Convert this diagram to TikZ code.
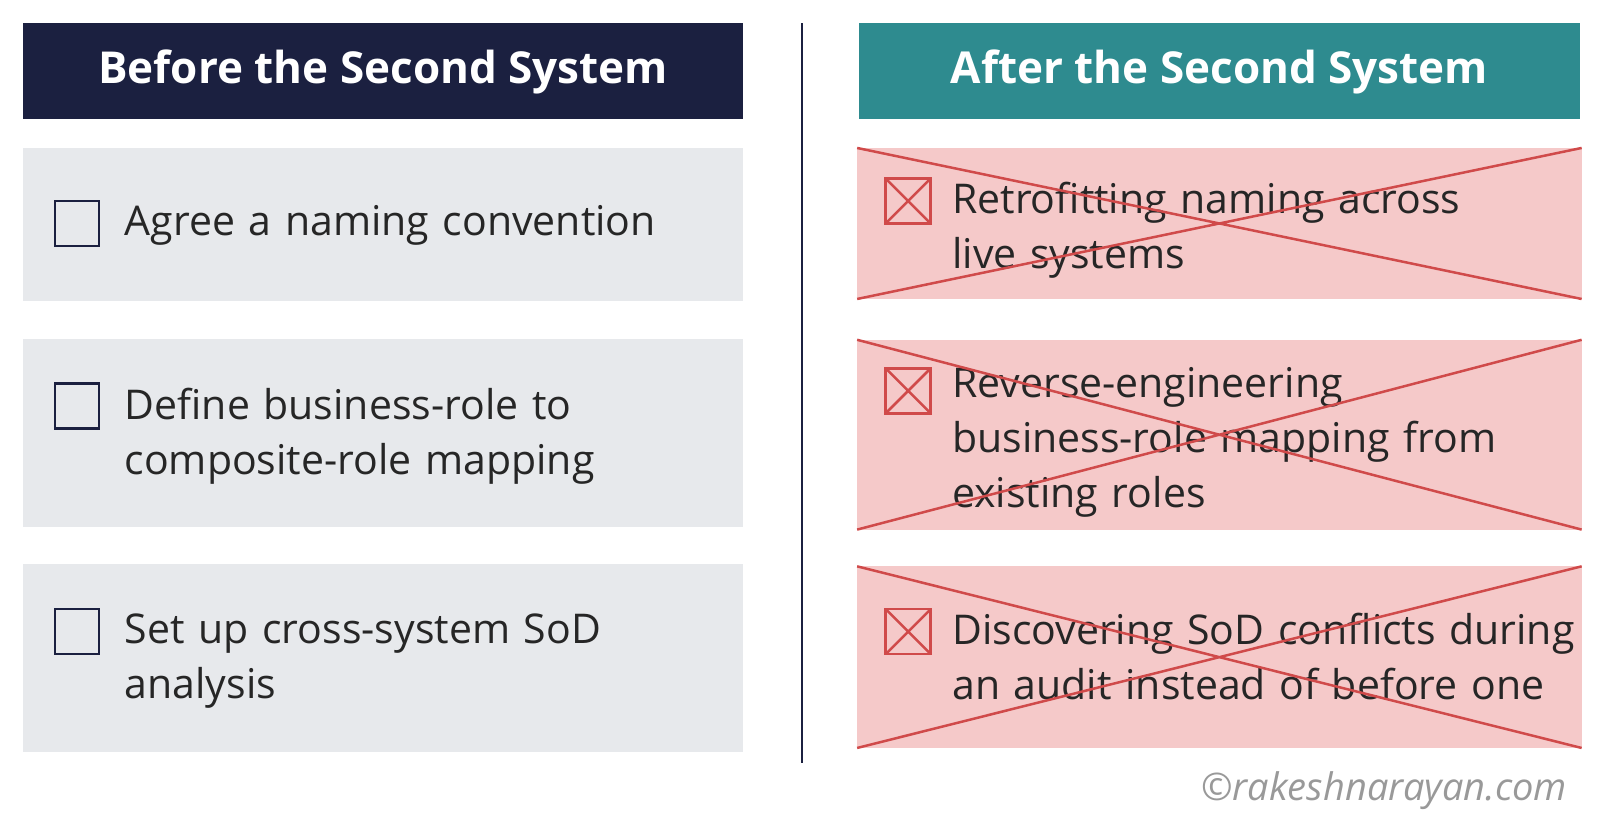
\documentclass[tikz,border=0pt]{standalone}
\usepackage{fontspec}
\setmainfont{Open Sans}
\begin{document}
\begin{tikzpicture}[x=1.0204pt,y=-1.0204pt,
 hdr/.style={inner sep=0pt,text=white,font=\fontsize{44}{48}\selectfont\bfseries},
 item/.style={anchor=north west,inner sep=0pt,align=left,text=black!85,font=\fontsize{41}{55}\selectfont,text width=660pt},
 cb/.style={draw=navy,line width=2.5pt},
 xb/.style={draw=xred,line width=2.5pt}]
\definecolor{navy}{HTML}{1B2040}
\definecolor{teal}{HTML}{2E8B8F}
\definecolor{lgray}{HTML}{E7E9EC}
\definecolor{pink}{HTML}{F5C9C9}
\definecolor{xred}{HTML}{D04A4A}
\fill[white] (0,0) rectangle (1568,797.7);
% headers
\fill[navy] (23,23) rectangle (728,117);
\node[hdr] (hl) at (375.5,71) {Before the Second System};
\fill[teal] (842,23) rectangle (1548,117);
\node[hdr] (hr) at (1195,71) {After the Second System};
\draw[navy,line width=2pt] (786,23) -- (786,748);
% left boxes
\foreach \a/\b/\cy in {145/295/219, 332/516/398, 553/737/619}{
  \fill[lgray] (23,\a) rectangle (728,\b);
  \draw[cb] (54,\cy-22) rectangle (97,\cy+22);
}
\node[item] (l1) at (122,201) {Agree a naming convention};
\node[item] (l2) at (122,380) {Define business-role to\\composite-role mapping};
\node[item] (l3) at (122,601) {Set up cross-system SoD\\analysis};
% right boxes
\foreach \a/\b/\cy in {145/293/197, 333/519/383, 555/733/619}{
  \fill[pink] (840,\a) rectangle (1550,\b);
  \draw[xb] (868,\cy-22) rectangle (912,\cy+22);
  \draw[xb] (868,\cy-22) -- (912,\cy+22) (868,\cy+22) -- (912,\cy-22);
}
\node[item] (r1) at (933,178) {Retrofitting naming across\\live systems};
\node[item] (r2) at (933,360) {Reverse-engineering\\business-role mapping from\\existing roles};
\node[item] (r3) at (933,601) {Discovering SoD conflicts during\\an audit instead of before one};
\foreach \a/\b in {145/293, 333/519, 555/733}{
  \draw[xred,line width=2.5pt] (840,\a) -- (1550,\b) (840,\b) -- (1550,\a);
}
\node[anchor=east,inner sep=0pt,text=black!40,font=\fontsize{38}{40}\selectfont\itshape] (wm) at (1536,775) {©rakeshnarayan.com};
\pgfresetboundingbox
\useasboundingbox (0,0) rectangle (1568,797.7);
\end{tikzpicture}
\end{document}
